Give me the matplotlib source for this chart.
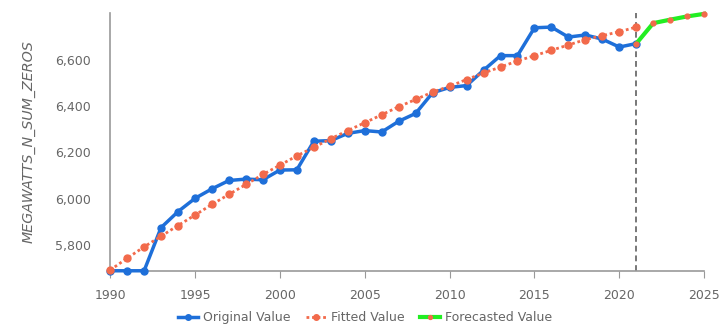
import matplotlib.pyplot as plt
from matplotlib.ticker import FuncFormatter

# values
years = list(range(1990, 2022))
original = [5690, 5690, 5690, 5876, 5945, 6002, 6043, 6079, 6085, 6082,
            6124, 6125, 6248, 6251, 6282, 6294, 6288, 6334, 6368, 6457,
            6480, 6488, 6554, 6617, 6617, 6737, 6740, 6697, 6706, 6688,
            6654, 6669]
fitted = [5693, 5744, 5793, 5839, 5885, 5930, 5976, 6019, 6062, 6105,
          6145, 6185, 6222, 6259, 6294, 6328, 6362, 6397, 6428, 6460,
          6485, 6514, 6542, 6568, 6594, 6617, 6640, 6663, 6686, 6703,
          6720, 6740]
fc_years = [2021, 2022, 2023, 2024, 2025]
forecast = [6669, 6757, 6772, 6786, 6797]
xticks = [1990, 1995, 2000, 2005, 2010, 2015, 2020, 2025]
yticks = [5800, 6000, 6200, 6400, 6600]

blue = '#1e6fd9'
orange = '#f26a4b'
green = '#22ee22'
grey = '#666666'

fig = plt.figure(figsize=(7.2, 3.29), dpi=100)
ax = fig.add_axes([0.153, 0.177, 0.825, 0.783])

ax.axvline(2021, color='#777777', lw=1.4, ls=(0, (3, 2)), zorder=1)
ax.plot(years, original, color=blue, lw=2.5, marker='o', ms=5, zorder=3,
        clip_on=False, label='Original Value')
ax.plot(years, fitted, color=orange, lw=2, ls=(0, (1, 1)), marker='o', ms=5,
        zorder=4, clip_on=False, label='Fitted Value')
ax.plot(fc_years, forecast, color=green, lw=3, marker='o', ms=3.5,
        mfc=orange, mec=orange, zorder=5, clip_on=False,
        label='Forecasted Value')

ax.set_xlim(1990, 2025)
ax.set_ylim(5690, 6800)
ax.set_xticks(xticks)
ax.set_yticks(yticks)
ax.yaxis.set_major_formatter(FuncFormatter(lambda v, p: f'{int(v):,}'))
ax.tick_params(axis='y', length=0, labelsize=9, labelcolor=grey, pad=14)
ax.tick_params(axis='x', length=5, color='#999999', labelsize=9,
               labelcolor=grey, pad=8)
for s in ['top', 'right']:
    ax.spines[s].set_visible(False)
for s in ['left', 'bottom']:
    ax.spines[s].set_color('#999999')
    ax.spines[s].set_linewidth(1.2)

ax.set_ylabel('MEGAWATTS_N_SUM_ZEROS', fontsize=10.3, color=grey,
              style='italic', labelpad=14)

fig.legend(loc='lower center', bbox_to_anchor=(0.507, -0.02), ncol=3,
           frameon=False, fontsize=9, labelcolor=grey, handlelength=1.6,
           handletextpad=0.4, columnspacing=1.2, markerscale=0.8)

fig.savefig('out.png', dpi=100)
